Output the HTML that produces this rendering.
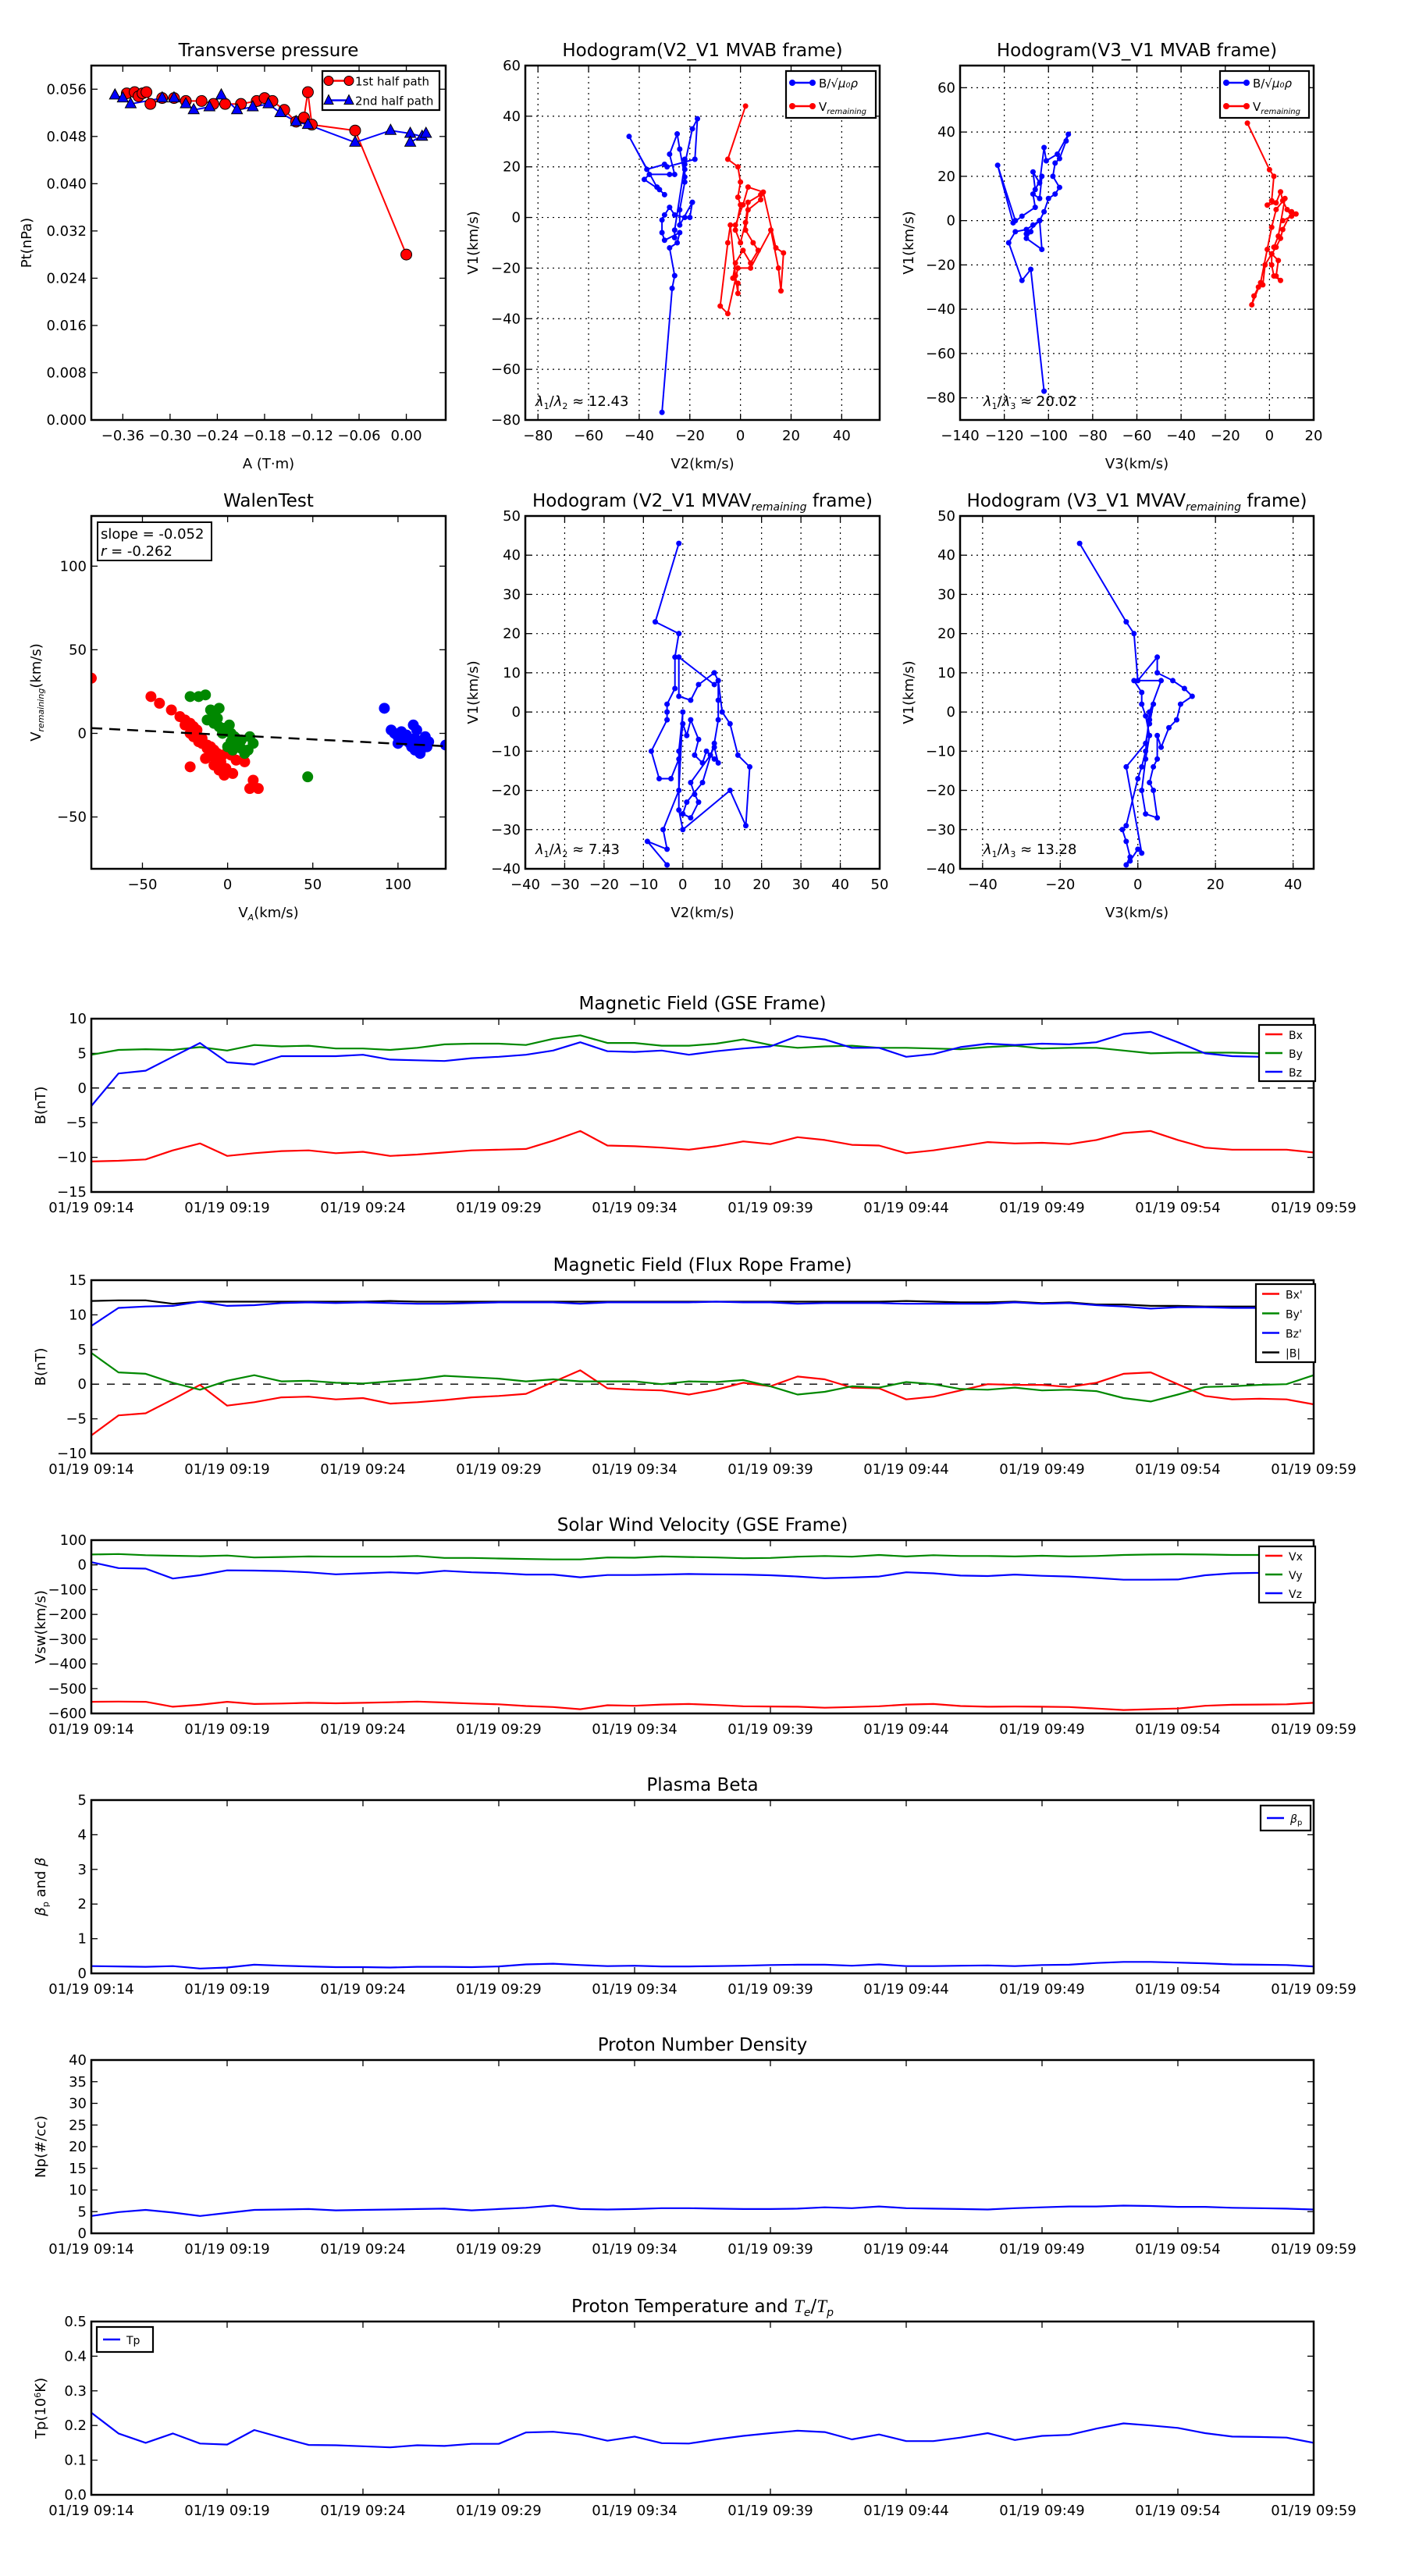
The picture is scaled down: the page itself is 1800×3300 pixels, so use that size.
<!DOCTYPE html>
<html><head><meta charset="utf-8"><title>Flux rope analysis</title>
<style>
html,body{margin:0;padding:0;background:#fff;}
svg{display:block;font-family:"DejaVu Sans","Liberation Sans",sans-serif;}
</style></head>
<body>
<svg id="fig" width="1800" height="3300" viewBox="0 0 1800 3300" xmlns="http://www.w3.org/2000/svg"></svg>
<script>
// ---------- DATA ----------
const timeLabels=["01/19 09:14","01/19 09:19","01/19 09:24","01/19 09:29","01/19 09:34","01/19 09:39","01/19 09:44","01/19 09:49","01/19 09:54","01/19 09:59"];
const gseBx=[-10.6,-10.5,-10.3,-9.0,-8.0,-9.8,-9.4,-9.1,-9.0,-9.4,-9.2,-9.8,-9.6,-9.3,-9.0,-8.9,-8.8,-7.6,-6.2,-8.3,-8.4,-8.6,-8.9,-8.4,-7.7,-8.1,-7.1,-7.5,-8.2,-8.3,-9.4,-9.0,-8.4,-7.8,-8.0,-7.9,-8.1,-7.5,-6.5,-6.2,-7.5,-8.6,-8.9,-8.9,-8.9,-9.3];
const gseBy=[4.8,5.5,5.6,5.5,5.9,5.4,6.2,6.0,6.1,5.7,5.7,5.5,5.8,6.3,6.4,6.4,6.2,7.1,7.6,6.5,6.5,6.1,6.1,6.4,7.0,6.2,5.8,6.0,6.1,5.8,5.8,5.7,5.6,5.9,6.1,5.7,5.8,5.8,5.4,5.0,5.1,5.1,5.1,5.0,5.3,5.9];
const gseBz=[-2.6,2.1,2.5,4.5,6.5,3.7,3.4,4.6,4.6,4.6,4.8,4.1,4.0,3.9,4.3,4.5,4.8,5.4,6.6,5.3,5.2,5.4,4.8,5.3,5.7,6.0,7.5,7.0,5.8,5.8,4.5,4.9,5.9,6.4,6.2,6.4,6.3,6.6,7.8,8.1,6.6,5.0,4.6,4.5,4.5,3.1];
const frBx=[-7.4,-4.5,-4.2,-2.2,-0.1,-3.1,-2.6,-1.9,-1.8,-2.2,-2.0,-2.8,-2.6,-2.3,-1.9,-1.7,-1.4,0.3,2.0,-0.6,-0.8,-0.9,-1.5,-0.8,0.2,-0.3,1.1,0.7,-0.5,-0.6,-2.2,-1.8,-0.9,0.0,-0.1,-0.1,-0.4,0.2,1.5,1.7,0.0,-1.7,-2.2,-2.1,-2.2,-2.9];
const frBy=[4.5,1.7,1.5,0.2,-0.8,0.5,1.3,0.4,0.5,0.2,0.1,0.4,0.7,1.2,1.0,0.8,0.4,0.7,0.4,0.4,0.4,0.0,0.4,0.3,0.6,-0.3,-1.5,-1.1,-0.3,-0.5,0.3,0.0,-0.7,-0.8,-0.5,-0.9,-0.8,-1.0,-2.0,-2.5,-1.5,-0.4,-0.3,-0.1,0.0,1.3];
const frBz=[8.4,11.0,11.2,11.3,11.9,11.3,11.4,11.7,11.8,11.7,11.8,11.7,11.6,11.6,11.7,11.8,11.8,11.8,11.6,11.8,11.8,11.8,11.8,11.9,11.8,11.8,11.6,11.7,11.7,11.7,11.6,11.6,11.6,11.6,11.8,11.6,11.7,11.4,11.2,10.9,11.1,11.1,11.0,11.0,11.0,11.0];
const frBt=[12.0,12.1,12.1,11.6,11.9,11.9,11.9,11.9,11.9,11.9,11.9,12.0,11.9,11.9,11.9,11.9,11.9,11.9,11.9,11.9,11.9,11.9,11.9,11.9,11.9,11.9,11.9,11.9,11.9,11.9,12.0,11.9,11.8,11.8,11.9,11.7,11.8,11.5,11.5,11.3,11.3,11.2,11.2,11.2,11.2,11.2];
const velVx=[-553,-552,-553,-573,-565,-553,-562,-560,-557,-559,-557,-555,-552,-556,-560,-563,-570,-574,-583,-567,-569,-564,-562,-566,-571,-572,-573,-577,-574,-571,-564,-562,-570,-573,-572,-573,-574,-580,-586,-583,-580,-569,-565,-564,-563,-557];
const velVy=[42,44,39,37,35,38,30,32,34,33,33,33,36,28,28,26,24,22,22,30,29,34,32,30,27,28,33,36,33,40,34,39,36,36,34,37,34,36,40,42,43,42,40,40,40,37];
const velVz=[11,-13,-15,-55,-42,-22,-23,-25,-30,-38,-34,-30,-34,-24,-30,-33,-39,-39,-50,-41,-41,-39,-37,-38,-39,-42,-47,-54,-51,-47,-30,-34,-43,-45,-39,-44,-47,-53,-60,-60,-59,-42,-34,-32,-27,-25];
const betaP=[0.21,0.20,0.19,0.21,0.14,0.17,0.25,0.22,0.20,0.18,0.18,0.17,0.19,0.19,0.18,0.20,0.26,0.28,0.24,0.21,0.22,0.20,0.20,0.21,0.22,0.24,0.25,0.25,0.22,0.26,0.21,0.21,0.22,0.23,0.21,0.24,0.25,0.30,0.33,0.33,0.31,0.29,0.26,0.25,0.24,0.20];
const densNp=[4.0,4.9,5.4,4.8,4.0,4.7,5.4,5.5,5.6,5.3,5.4,5.5,5.6,5.7,5.3,5.6,5.9,6.4,5.6,5.5,5.6,5.8,5.8,5.7,5.6,5.6,5.7,6.0,5.8,6.2,5.8,5.7,5.6,5.5,5.8,6.0,6.2,6.2,6.4,6.3,6.1,6.1,5.9,5.8,5.7,5.5];
const tempTp=[0.237,0.177,0.150,0.177,0.148,0.145,0.187,0.165,0.144,0.143,0.140,0.137,0.143,0.141,0.147,0.147,0.180,0.182,0.174,0.156,0.168,0.149,0.148,0.160,0.170,0.178,0.185,0.181,0.160,0.174,0.155,0.155,0.165,0.178,0.158,0.170,0.173,0.191,0.206,0.200,0.193,0.178,0.168,0.167,0.165,0.150];

const ptRedA=[-0.355,-0.345,-0.34,-0.335,-0.33,-0.325,-0.31,-0.295,-0.28,-0.26,-0.245,-0.23,-0.21,-0.19,-0.18,-0.17,-0.155,-0.14,-0.13,-0.125,-0.12,-0.065,0.0];
const ptRedP=[0.0553,0.0555,0.0548,0.0553,0.0555,0.0535,0.0545,0.0545,0.054,0.054,0.0535,0.0535,0.0535,0.054,0.0545,0.054,0.0525,0.0505,0.0512,0.0555,0.050,0.049,0.028];
const ptBlueA=[-0.37,-0.36,-0.35,-0.31,-0.295,-0.28,-0.27,-0.25,-0.235,-0.215,-0.195,-0.175,-0.16,-0.14,-0.125,-0.065,-0.02,0.005,0.02,0.025,0.005];
const ptBlueP=[0.055,0.0545,0.0535,0.0545,0.0545,0.0535,0.0525,0.053,0.055,0.0525,0.053,0.0535,0.052,0.0505,0.050,0.047,0.049,0.0485,0.048,0.0485,0.047];

const h2BluX=[-31,-27,-26,-28,-25,-24,-30,-31,-31,-30,-28,-26,-22,-20,-19,-24,-24,-22,-22,-22,-22,-24,-25,-28,-26,-28,-36,-38,-32,-30,-33,-44,-37,-30,-29,-18,-17,-19,-22,-26,-26];
const h2BluY=[-77,-28,-23,-12,-10,-6,-9,-6,-1,1,4,1,0,0,6,-3,3,14,19,23,16,27,33,25,17,17,17,15,11,9,12,32,19,21,20,23,39,35,21,-5,-8];
const h2RedX=[2,-5,-1,0,-1,0,-2,0,2,3,8,8,3,2,5,7,4,1,-2,-3,-1,-1,-2,-4,-5,-8,-5,-1,4,12,15,16,17,14,9,3,1,-2];
const h2RedY=[44,23,20,14,8,5,-5,-10,-2,6,9,7,3,-5,-10,-13,-18,-13,-18,-24,-26,-30,-23,-3,-10,-35,-38,-20,-20,-5,-20,-29,-14,-12,10,12,5,-3];
const h3BluX=[-102,-108,-112,-118,-115,-110,-107,-104,-110,-108,-110,-103,-104,-102,-100,-97,-95,-98,-97,-95,-92,-91,-96,-101,-102,-104,-107,-106,-103,-104,-107,-106,-112,-116,-123,-115];
const h3BluY=[-77,-22,-27,-10,-5,-4,-2,0,-6,-5,-8,-13,0,4,10,12,15,20,26,28,36,39,30,27,33,17,22,14,20,10,12,6,2,-1,25,0];
const h3RedX=[-10,0,2,1,-1,3,5,6,8,10,6,12,10,6,5,3,1,4,3,5,2,1,1,-2,-3,-5,-7,-8,-4,-1,1,3,7,4,2];
const h3RedY=[44,23,20,9,7,8,13,9,5,2,0,3,4,-4,-8,-12,-15,-18,-25,-27,-25,-20,-15,-20,-29,-30,-34,-38,-28,-13,-3,5,10,-7,-12];

const walenRedX=[-80,-45,-40,-33,-28,-25,-22,-20,-18,-25,-22,-20,-17,-15,-12,-10,-8,-6,-5,-3,0,2,-10,-7,-13,-22,-8,-5,-1,3,5,10,15,18,13,-15,-18,-12,-4,-2];
const walenRedY=[33,22,18,14,10,8,6,4,2,5,0,-2,-5,-3,-7,-8,-10,-12,-14,-13,-11,-13,-13,-16,-15,-20,-19,-22,-21,-24,-16,-17,-28,-33,-33,-6,-1,-9,-17,-25];
const walenGrnX=[-22,-17,-13,-10,-8,-5,-12,-8,-5,-2,0,2,4,2,6,8,10,12,15,13,0,5,-3,1,-6,47,8,3];
const walenGrnY=[22,22,23,14,12,15,8,6,4,3,2,0,-2,-5,-7,-9,-12,-10,-6,-2,-8,-3,0,5,9,-26,-4,-10];
const walenBluX=[92,96,98,100,102,104,106,108,110,112,109,113,115,118,111,105,107,110,114,103,100,128,116,117];
const walenBluY=[15,2,0,-2,1,-3,-5,-8,-10,-6,5,-12,-4,-5,2,-1,-6,-3,-9,-4,-6,-7,-2,-8];
const walenFit=[-0.052,-1.0];

const h5X=[-1,-7,-1,-2,-2,-4,-4,-4,-8,-6,-3,-1,0,1,2,4,3,5,6,8,9,8,7,2,3,4,2,0,1,5,8,9,9,9,8,4,2,-1,-1,8,9,10,12,14,17,16,12,0,-1,-1,0,-1,-5,-4,-9,-4];
const h5Y=[43,23,20,14,6,2,0,-2,-10,-17,-17,-12,-3,-6,-2,-7,-11,-13,-10,-12,-13,-9,-11,-18,-21,-23,-27,-26,-23,-18,-8,-2,3,8,10,7,3,4,14,7,8,0,-3,-11,-14,-29,-20,-30,-25,-10,0,-20,-30,-35,-33,-39];
const h6X=[-15,-3,-1,0,5,5,9,12,14,11,10,8,6,5,5,4,3,4,5,2,1,2,3,2,1,1,-1,6,3,2,1,0,-3,-4,-3,-2,-3,-2,0,1,-3,2,3,4,3];
const h6Y=[43,23,20,8,14,10,8,6,4,2,-2,-4,-9,-6,-12,-14,-18,-20,-27,-26,-20,-12,-6,-1,2,5,8,8,0,-10,-14,-17,-29,-30,-33,-37,-39,-38,-35,-36,-14,-8,-2,2,-3];

// ---------- HELPERS ----------
const NS="http://www.w3.org/2000/svg";
const svg=document.getElementById('fig');
function mk(tag,attrs,parent){const e=document.createElementNS(NS,tag);for(const k in attrs)e.setAttribute(k,attrs[k]);(parent||svg).appendChild(e);return e;}
function fmt(v,d){return (v<0?"\u2212":"")+Math.abs(v).toFixed(d);}

function axes(o){
  const g=mk('g',{});
  
  
  const sx=v=>o.x0+(v-o.xmin)/(o.xmax-o.xmin)*o.w;
  const sy=v=>o.y0+o.h-(v-o.ymin)/(o.ymax-o.ymin)*o.h;
  if(o.grid){
    o.xticks.forEach(t=>{const l=mk('line',{x1:sx(t),x2:sx(t),y1:o.y0,y2:o.y0+o.h,stroke:'#000','stroke-width':1.2,'stroke-dasharray':'2,5'},g);});
    o.yticks.forEach(t=>{const l=mk('line',{x1:o.x0,x2:o.x0+o.w,y1:sy(t),y2:sy(t),stroke:'#000','stroke-width':1.2,'stroke-dasharray':'2,5'},g);});
  }
  o.xticks.forEach((t,i)=>{
    const X=sx(t);
    const a=mk('line',{x1:X,x2:X,y1:o.y0+o.h,y2:o.y0+o.h-8,stroke:'#000','stroke-width':1.3},g);
    const b=mk('line',{x1:X,x2:X,y1:o.y0,y2:o.y0+8,stroke:'#000','stroke-width':1.3},g);
    const tx=mk('text',{x:X,y:o.y0+o.h+26,'font-size':18,'text-anchor':'middle'},g);tx.textContent=o.xlabels[i];
    
  });
  o.yticks.forEach((t,i)=>{
    const Y=sy(t);
    const a=mk('line',{x1:o.x0,x2:o.x0+8,y1:Y,y2:Y,stroke:'#000','stroke-width':1.3},g);
    const b=mk('line',{x1:o.x0+o.w,x2:o.x0+o.w-8,y1:Y,y2:Y,stroke:'#000','stroke-width':1.3},g);
    const tx=mk('text',{x:o.x0-6,y:Y+6,'font-size':18,'text-anchor':'end'},g);tx.textContent=o.ylabels[i];
    
  });
  const ti=mk('text',{x:o.x0+o.w/2,y:o.y0-12,'font-size':23,'text-anchor':'middle'},g);
  ti.innerHTML=o.title;
  
  if(o.xlabel){const xl=mk('text',{x:o.x0+o.w/2,y:o.y0+o.h+62,'font-size':18,'text-anchor':'middle'},g);xl.innerHTML=o.xlabel;}
  if(o.ylabel){const yx=o.ylx, yy=o.y0+o.h/2;const yl=mk('text',{x:yx,y:yy,'font-size':18,'text-anchor':'middle',transform:`rotate(-90 ${yx} ${yy})`},g);yl.innerHTML=o.ylabel;}
  const clipId='c'+Math.round(o.x0)+'_'+Math.round(o.y0);
  const cp=mk('clipPath',{id:clipId},g);mk('rect',{x:o.x0,y:o.y0,width:o.w,height:o.h},cp);
  const plot=mk('g',{'clip-path':`url(#${clipId})`},g);
  
  const fr=mk('rect',{x:o.x0,y:o.y0,width:o.w,height:o.h,fill:'none',stroke:'#000','stroke-width':2.5},g);
  
  return {sx,sy,g,plot,o};
}
function polyline(ax,xs,ys,color,name,w,dash){
  const pts=xs.map((x,i)=>ax.sx(x).toFixed(1)+','+ax.sy(ys[i]).toFixed(1)).join(' ');
  const p=mk('polyline',{points:pts,fill:'none',stroke:color,'stroke-width':w||2.2,'stroke-linejoin':'round'},ax.plot);
  if(dash)p.setAttribute('stroke-dasharray',dash);
  
  return p;
}
function dots(ax,xs,ys,color,r,name){
  xs.forEach((x,i)=>{const c=mk('circle',{cx:ax.sx(x),cy:ax.sy(ys[i]),r:r,fill:color,stroke:r>5?'#000':'none','stroke-width':r>5&&name.indexOf('walen')<0?1:0},ax.plot);
    });
}
function tris(ax,xs,ys,color,name){
  xs.forEach((x,i)=>{const X=ax.sx(x),Y=ax.sy(ys[i]);const t=mk('polygon',{points:`${X},${Y-8} ${X-7},${Y+5} ${X+7},${Y+5}`,fill:color,stroke:'#000','stroke-width':1},ax.plot);
    });
}
function legend(x,y,w,h,entries,name){
  const g=mk('g',{});
  
  const r=mk('rect',{x:x,y:y,width:w,height:h,fill:'#fff',stroke:'#000','stroke-width':2.2},g);
  
  const step=h/entries.length;
  entries.forEach((e,i)=>{
    const cy=y+step*(i+0.5);
    const l=mk('line',{x1:x+8,x2:x+8+e.len,y1:cy,y2:cy,stroke:e.color,'stroke-width':2.5},g);
    
    if(e.marker==='dot'){[x+8,x+8+e.len].forEach(mx=>{const c=mk('circle',{cx:mx,cy:cy,r:e.mr||4,fill:e.color,stroke:e.ms||'none'},g);});}
    if(e.marker==='tri'){[x+8,x+8+e.len].forEach(mx=>{const t=mk('polygon',{points:`${mx},${cy-7} ${mx-6},${cy+5} ${mx+6},${cy+5}`,fill:e.color,stroke:'#000'},g);});}
    const t=mk('text',{x:x+16+e.len,y:cy+6,'font-size':e.fs||16},g);t.innerHTML=e.label;
    
  });
}
function range(a,b,s){const r=[];for(let v=a;v<=b+1e-9;v+=s)r.push(+v.toFixed(6));return r;}

// ---------- TOP ROW ----------
const ax1=axes({name:'transverse-pressure-chart',x0:117,y0:84,w:454,h:454,xmin:-0.40,xmax:0.05,ymin:0,ymax:0.06,
  xticks:range(-0.36,0.0,0.06),xlabels:range(-0.36,0.0,0.06).map(v=>fmt(v,2)),
  yticks:range(0,0.056,0.008),ylabels:range(0,0.056,0.008).map(v=>v.toFixed(3)),
  title:'Transverse pressure',xlabel:'A (T·m)',ylabel:'Pt(nPa)',ylx:40});
polyline(ax1,ptRedA,ptRedP,'#f00','pt-1st-half-line',2);
polyline(ax1,ptBlueA,ptBlueP,'#00f','pt-2nd-half-line',2);
dots(ax1,ptRedA,ptRedP,'#f00',7,'pt-1st-half-point');
tris(ax1,ptBlueA,ptBlueP,'#00f','pt-2nd-half-point');
legend(413,91,150,50,[{color:'#f00',len:26,marker:'dot',mr:6,ms:'#000',label:'1st half path',fs:15},{color:'#00f',len:26,marker:'tri',label:'2nd half path',fs:15}],'pt-legend');

const ax2=axes({name:'hodogram-v2-v1-mvab',x0:673,y0:84,w:454,h:454,xmin:-85,xmax:55,ymin:-80,ymax:60,
  xticks:range(-80,40,20),xlabels:range(-80,40,20).map(v=>fmt(v,0)),
  yticks:range(-80,60,20),ylabels:range(-80,60,20).map(v=>fmt(v,0)),grid:true,
  title:'Hodogram(V2_V1 MVAB frame)',xlabel:'V2(km/s)',ylabel:'V1(km/s)',ylx:612});
polyline(ax2,h2BluX,h2BluY,'#00f','hodogram-b-line',2);dots(ax2,h2BluX,h2BluY,'#00f',3.5,'hodogram-b-point');
polyline(ax2,h2RedX,h2RedY,'#f00','hodogram-v-line',2);dots(ax2,h2RedX,h2RedY,'#f00',3.5,'hodogram-v-point');
legend(1007,91,115,60,[{color:'#00f',len:26,marker:'dot',label:'B/√<tspan font-style="italic">μ₀ρ</tspan>',fs:15},{color:'#f00',len:26,marker:'dot',label:'V<tspan font-size="10" font-style="italic" dy="4">remaining</tspan>',fs:15}],'hodogram-mvab-legend-1');
let rt=mk('text',{x:686,y:520,'font-size':18});rt.innerHTML='<tspan font-style="italic">λ</tspan><tspan font-size="11" dy="4">1</tspan><tspan dy="-4">/</tspan><tspan font-style="italic">λ</tspan><tspan font-size="11" dy="4">2</tspan><tspan dy="-4"> ≈ 12.43</tspan>';


const ax3=axes({name:'hodogram-v3-v1-mvab',x0:1230,y0:84,w:453,h:454,xmin:-140,xmax:20,ymin:-90,ymax:70,
  xticks:range(-140,20,20),xlabels:range(-140,20,20).map(v=>fmt(v,0)),
  yticks:range(-80,60,20),ylabels:range(-80,60,20).map(v=>fmt(v,0)),grid:true,
  title:'Hodogram(V3_V1 MVAB frame)',xlabel:'V3(km/s)',ylabel:'V1(km/s)',ylx:1170});
polyline(ax3,h3BluX,h3BluY,'#00f','hodogram-b-line',2);dots(ax3,h3BluX,h3BluY,'#00f',3.5,'hodogram-b-point');
polyline(ax3,h3RedX,h3RedY,'#f00','hodogram-v-line',2);dots(ax3,h3RedX,h3RedY,'#f00',3.5,'hodogram-v-point');
legend(1563,91,114,60,[{color:'#00f',len:26,marker:'dot',label:'B/√<tspan font-style="italic">μ₀ρ</tspan>',fs:15},{color:'#f00',len:26,marker:'dot',label:'V<tspan font-size="10" font-style="italic" dy="4">remaining</tspan>',fs:15}],'hodogram-mvab-legend-2');
rt=mk('text',{x:1260,y:520,'font-size':18});rt.innerHTML='<tspan font-style="italic">λ</tspan><tspan font-size="11" dy="4">1</tspan><tspan dy="-4">/</tspan><tspan font-style="italic">λ</tspan><tspan font-size="11" dy="4">3</tspan><tspan dy="-4"> ≈ 20.02</tspan>';


// ---------- SECOND ROW ----------
const ax4=axes({name:'walen-test-chart',x0:117,y0:661,w:454,h:452,xmin:-80,xmax:128,ymin:-81,ymax:130,
  xticks:[-50,0,50,100],xlabels:['\u221250','0','50','100'],
  yticks:[-50,0,50,100],ylabels:['\u221250','0','50','100'],
  title:'WalenTest',xlabel:'V<tspan font-size="11" font-style="italic" dy="4">A</tspan><tspan dy="-4">(km/s)</tspan>',ylabel:'V<tspan font-size="11" font-style="italic" dy="4">remaining</tspan><tspan dy="-4">(km/s)</tspan>',ylx:52});
dots(ax4,walenRedX,walenRedY,'#f00',7,'walen-red-point');
dots(ax4,walenGrnX,walenGrnY,'#080',7,'walen-green-point');
dots(ax4,walenBluX,walenBluY,'#00f',7,'walen-blue-point');
const fitX=[-80,128];
polyline(ax4,fitX,fitX.map(x=>walenFit[0]*x+walenFit[1]),'#000','walen-fit-line',2.5,'14,9');
const wb=mk('rect',{x:125,y:669,width:146,height:49,fill:'#fff',stroke:'#000','stroke-width':2});

let wt=mk('text',{x:129,y:690,'font-size':18});wt.textContent='slope = -0.052';

wt=mk('text',{x:129,y:712,'font-size':18});wt.innerHTML='<tspan font-style="italic">r</tspan> = -0.262';


const ax5=axes({name:'hodogram-v2-v1-mvav',x0:673,y0:661,w:454,h:452,xmin:-40,xmax:50,ymin:-40,ymax:50,
  xticks:range(-40,50,10),xlabels:range(-40,50,10).map(v=>fmt(v,0)),
  yticks:range(-40,50,10),ylabels:range(-40,50,10).map(v=>fmt(v,0)),grid:true,
  title:'Hodogram (V2_V1 MVAV<tspan font-size="14" font-style="italic" dy="5">remaining</tspan><tspan dy="-5"> frame)</tspan>',xlabel:'V2(km/s)',ylabel:'V1(km/s)',ylx:612});
polyline(ax5,h5X,h5Y,'#00f','hodogram-line',2);dots(ax5,h5X,h5Y,'#00f',3.5,'hodogram-point');
rt=mk('text',{x:686,y:1094,'font-size':18});rt.innerHTML='<tspan font-style="italic">λ</tspan><tspan font-size="11" dy="4">1</tspan><tspan dy="-4">/</tspan><tspan font-style="italic">λ</tspan><tspan font-size="11" dy="4">2</tspan><tspan dy="-4"> ≈ 7.43</tspan>';


const ax6=axes({name:'hodogram-v3-v1-mvav',x0:1230,y0:661,w:453,h:452,xmin:-45.8,xmax:45.3,ymin:-40,ymax:50,
  xticks:[-40,-20,0,20,40],xlabels:['\u221240','\u221220','0','20','40'],
  yticks:range(-40,50,10),ylabels:range(-40,50,10).map(v=>fmt(v,0)),grid:true,
  title:'Hodogram (V3_V1 MVAV<tspan font-size="14" font-style="italic" dy="5">remaining</tspan><tspan dy="-5"> frame)</tspan>',xlabel:'V3(km/s)',ylabel:'V1(km/s)',ylx:1170});
polyline(ax6,h6X,h6Y,'#00f','hodogram-line',2);dots(ax6,h6X,h6Y,'#00f',3.5,'hodogram-point');
rt=mk('text',{x:1260,y:1094,'font-size':18});rt.innerHTML='<tspan font-style="italic">λ</tspan><tspan font-size="11" dy="4">1</tspan><tspan dy="-4">/</tspan><tspan font-style="italic">λ</tspan><tspan font-size="11" dy="4">3</tspan><tspan dy="-4"> ≈ 13.28</tspan>';


// ---------- TIME SERIES ----------
const tIdx=gseBx.map((_,i)=>i);
function timeAxes(name,y0,ymin,ymax,yt,yl,title,ylabel){
  return axes({name:name,x0:117,y0:y0,w:1566,h:222,xmin:0,xmax:45,ymin:ymin,ymax:ymax,
    xticks:range(0,45,5),xlabels:timeLabels,yticks:yt,ylabels:yl,title:title,ylabel:ylabel,ylx:58});
}
const tg=timeAxes('magnetic-field-gse-chart',1305,-15,10,range(-15,10,5),range(-15,10,5).map(v=>fmt(v,0)),'Magnetic Field (GSE Frame)','B(nT)');
polyline(tg,[0,45],[0,0],'#000','zero-line',1.3,'10,10');
polyline(tg,tIdx,gseBx,'#f00','series-bx');polyline(tg,tIdx,gseBy,'#080','series-by');polyline(tg,tIdx,gseBz,'#00f','series-bz');
legend(1613,1313,72,72,[{color:'#f00',len:22,label:'Bx',fs:14},{color:'#080',len:22,label:'By',fs:14},{color:'#00f',len:22,label:'Bz',fs:14}],'gse-legend');

const tf=timeAxes('magnetic-field-flux-rope-chart',1640,-10,15,range(-10,15,5),range(-10,15,5).map(v=>fmt(v,0)),'Magnetic Field (Flux Rope Frame)','B(nT)');
polyline(tf,[0,45],[0,0],'#000','zero-line',1.3,'10,10');
polyline(tf,tIdx,frBt,'#000','series-btotal');polyline(tf,tIdx,frBz,'#00f','series-bz-prime');
polyline(tf,tIdx,frBx,'#f00','series-bx-prime');polyline(tf,tIdx,frBy,'#080','series-by-prime');
legend(1609,1645,76,100,[{color:'#f00',len:22,label:"Bx'",fs:14},{color:'#080',len:22,label:"By'",fs:14},{color:'#00f',len:22,label:"Bz'",fs:14},{color:'#000',len:22,label:'|B|',fs:14}],'flux-rope-legend');

const tv=timeAxes('solar-wind-velocity-chart',1973,-600,100,range(-600,100,100),range(-600,100,100).map(v=>fmt(v,0)),'Solar Wind Velocity (GSE Frame)','Vsw(km/s)');
polyline(tv,tIdx,velVx,'#f00','series-vx');polyline(tv,tIdx,velVy,'#080','series-vy');polyline(tv,tIdx,velVz,'#00f','series-vz');
legend(1613,1981,72,72,[{color:'#f00',len:22,label:'Vx',fs:14},{color:'#080',len:22,label:'Vy',fs:14},{color:'#00f',len:22,label:'Vz',fs:14}],'velocity-legend');

const tb=timeAxes('plasma-beta-chart',2306,0,5,range(0,5,1),range(0,5,1).map(v=>v.toFixed(0)),'Plasma Beta','<tspan font-style="italic">β</tspan><tspan font-size="11" dy="4">p</tspan><tspan dy="-4"> and </tspan><tspan font-style="italic">β</tspan>');
polyline(tb,tIdx,betaP,'#00f','series-beta-p');
legend(1615,2313,64,32,[{color:'#00f',len:22,label:'<tspan font-style="italic">β</tspan><tspan font-size="10" dy="3">p</tspan>',fs:14}],'beta-legend');

const tn=timeAxes('proton-density-chart',2639,0,40,range(0,40,5),range(0,40,5).map(v=>v.toFixed(0)),'Proton Number Density','Np(#/cc)');
polyline(tn,tIdx,densNp,'#00f','series-np');

const tt=timeAxes('proton-temperature-chart',2974,0,0.5,range(0,0.5,0.1),range(0,0.5,0.1).map(v=>v.toFixed(1)),'Proton Temperature and <tspan font-style="italic" font-family="Liberation Serif,serif">T</tspan><tspan font-size="14" font-style="italic" dy="5">e</tspan><tspan dy="-5">/</tspan><tspan font-style="italic" font-family="Liberation Serif,serif">T</tspan><tspan font-size="14" font-style="italic" dy="5">p</tspan>','Tp(10<tspan font-size="11" dy="-6">6</tspan><tspan dy="6">K)</tspan>');
polyline(tt,tIdx,tempTp,'#00f','series-tp');
legend(124,2981,72,32,[{color:'#00f',len:22,label:'Tp',fs:14}],'temperature-legend');
</script>
</body></html>
